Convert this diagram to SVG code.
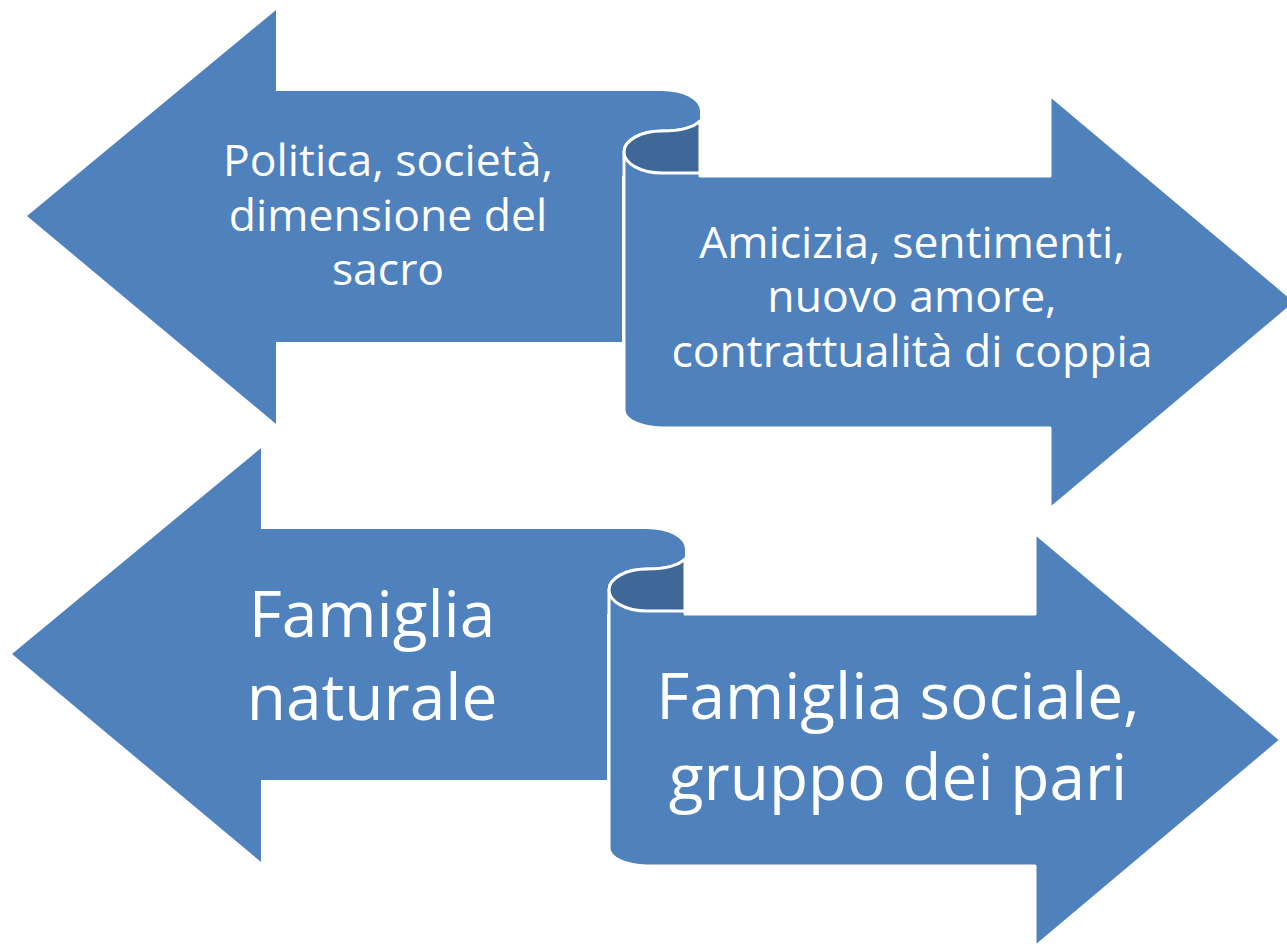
<svg xmlns="http://www.w3.org/2000/svg" width="1287" height="946" viewBox="0 0 1287 946">
  <style>
    .arrow { fill: #4F81BD; }
    .front { fill: #4F81BD; stroke: #FFFFFF; stroke-width: 3; stroke-linejoin: round; }
    .curl { fill: #3F6898; stroke: #FFFFFF; stroke-width: 3; stroke-linejoin: round; }
    .lbl { fill: #FFFFFF; font-family: "Open Sans", "Noto Sans", "Liberation Sans", sans-serif; text-anchor: middle; }
    .small { font-size: 44.5px; }
    .big { font-size: 64px; }
  </style>
  <defs>
    <path id="leftShape" d="M27,216 L276,10 L276,91 L662,91 A38,20 0 0 1 700,111 L700,176 L622,176 L622,342 L276,342 L276,424 Z"/>
    <path id="rightShape" d="M624,152 A38,21 0 0 1 662,131 Q690,131 700,121 L700,176 L1050,176 L1050,95 L1296,302 L1050,509 L1050,428 L662,428 A38,18 0 0 1 624,410 Z"/>
    <path id="curlShape" d="M700,121 Q690,131 662,131 A38,21 0 0 0 624,152 A38,21 0 0 0 662,173 L700,173 Z"/>
  </defs>

  <g id="node-politica">
    <use href="#leftShape" class="arrow"/>
    <text class="lbl small"><tspan x="388" y="176">Politica, società,</tspan><tspan x="388" y="230.5">dimensione del</tspan><tspan x="388" y="285">sacro</tspan></text>
  </g>
  <g id="node-amicizia">
    <use href="#rightShape" class="front"/>
    <use href="#curlShape" class="curl"/>
    <text class="lbl small"><tspan x="912" y="258">Amicizia, sentimenti,</tspan><tspan x="912" y="312">nuovo amore,</tspan><tspan x="912" y="367">contrattualità di coppia</tspan></text>
  </g>

  <g id="node-famiglia-naturale">
    <use href="#leftShape" class="arrow" transform="translate(-15,438)"/>
    <text class="lbl big"><tspan x="372" y="637">Famiglia</tspan><tspan x="372" y="720">naturale</tspan></text>
  </g>
  <g id="node-famiglia-sociale">
    <use href="#rightShape" class="front" transform="translate(-15,438)"/>
    <use href="#curlShape" class="curl" transform="translate(-15,438)"/>
    <text class="lbl big"><tspan x="898" y="719">Famiglia sociale,</tspan><tspan x="898" y="800">gruppo dei pari</tspan></text>
  </g>

  <g id="connectors"></g>
</svg>
